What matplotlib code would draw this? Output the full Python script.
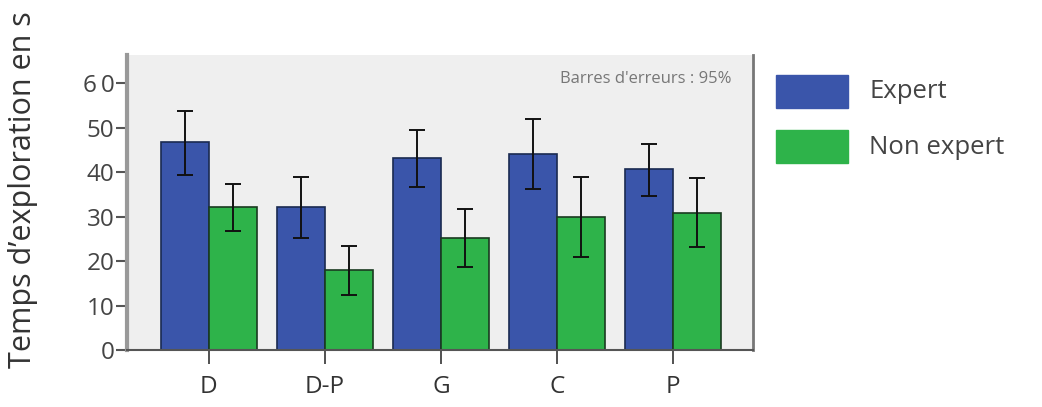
import numpy as np
import matplotlib
matplotlib.use("Agg")
import matplotlib.pyplot as plt
from matplotlib.patches import Rectangle

plt.rcParams['font.family'] = ['Open Sans', 'DejaVu Sans']

categories = ["D", "D-P", "G", "C", "P"]
expert = [46.8, 32.2, 43.1, 44.0, 40.6]
expert_lo = [39.3, 25.1, 36.7, 36.1, 34.6]
expert_hi = [53.8, 38.9, 49.4, 51.9, 46.3]
non_expert = [32.2, 18.0, 25.2, 30.0, 30.9]
non_expert_lo = [26.7, 12.4, 18.6, 21.0, 23.2]
non_expert_hi = [37.2, 23.4, 31.8, 38.8, 38.7]

blue = "#3a55aa"
green = "#2eb34a"

fig = plt.figure(figsize=(10.42, 4.07), dpi=100)
ax = fig.add_axes([127 / 1042, 1 - 350 / 407, (753 - 127) / 1042, (350 - 55) / 407])
ax.set_facecolor("#efefef")

x = np.arange(len(categories))
w = 0.415
e = np.array(expert)
n = np.array(non_expert)
e_err = [e - np.array(expert_lo), np.array(expert_hi) - e]
n_err = [n - np.array(non_expert_lo), np.array(non_expert_hi) - n]

err_kw = dict(ecolor="#111111", elinewidth=1.4, capsize=6, capthick=1.4)
ax.bar(x - w / 2, e, w, color=blue, edgecolor="#1a2a50", linewidth=1.2,
       yerr=e_err, error_kw=err_kw, zorder=2)
ax.bar(x + w / 2, n, w, color=green, edgecolor="#1a3a20", linewidth=1.2,
       yerr=n_err, error_kw=err_kw, zorder=2)

ax.set_xlim(-0.705, 4.69)
ax.set_ylim(0, 66.3)
ax.set_yticks([0, 10, 20, 30, 40, 50, 60])
ax.set_yticklabels(["0", "10", "20", "30", "40", "50", "6\u20090"])
ax.set_xticks(x)
ax.set_xticklabels(categories)

ax.tick_params(axis="y", length=8, width=1.5, color="#555555", labelsize=17.5,
               labelcolor="#444444", pad=1)
ax.tick_params(axis="x", length=10, width=1.2, color="#333333", labelsize=17.5,
               labelcolor="#333333", pad=8)

ax.spines["top"].set_visible(False)
ax.spines["left"].set_color("#999999")
ax.spines["left"].set_linewidth(3)
ax.spines["right"].set_color("#777777")
ax.spines["right"].set_linewidth(2)
ax.spines["bottom"].set_color("#555555")
ax.spines["bottom"].set_linewidth(1.5)

ax.text(0.965, 0.92, "Barres d'erreurs : 95%", transform=ax.transAxes,
        ha="right", va="center", fontsize=12, color="#777777")

fig.text(0.022, 0.533, "Temps d\u2019exploration en s", rotation=90,
         ha="center", va="center", fontsize=22, color="#333333")

# legend
for i, (lab, col) in enumerate([("Expert", blue), ("Non expert", green)]):
    y0 = 75 + i * 55
    fig.patches.append(Rectangle((776 / 1042, 1 - (y0 + 33) / 407), 72 / 1042, 33 / 407,
                                 transform=fig.transFigure, color=col))
    fig.text(869 / 1042, 1 - (y0 + 17) / 407, lab, ha="left", va="center",
             fontsize=18.5, color="#444444")

fig.savefig("out.png", dpi=100)
